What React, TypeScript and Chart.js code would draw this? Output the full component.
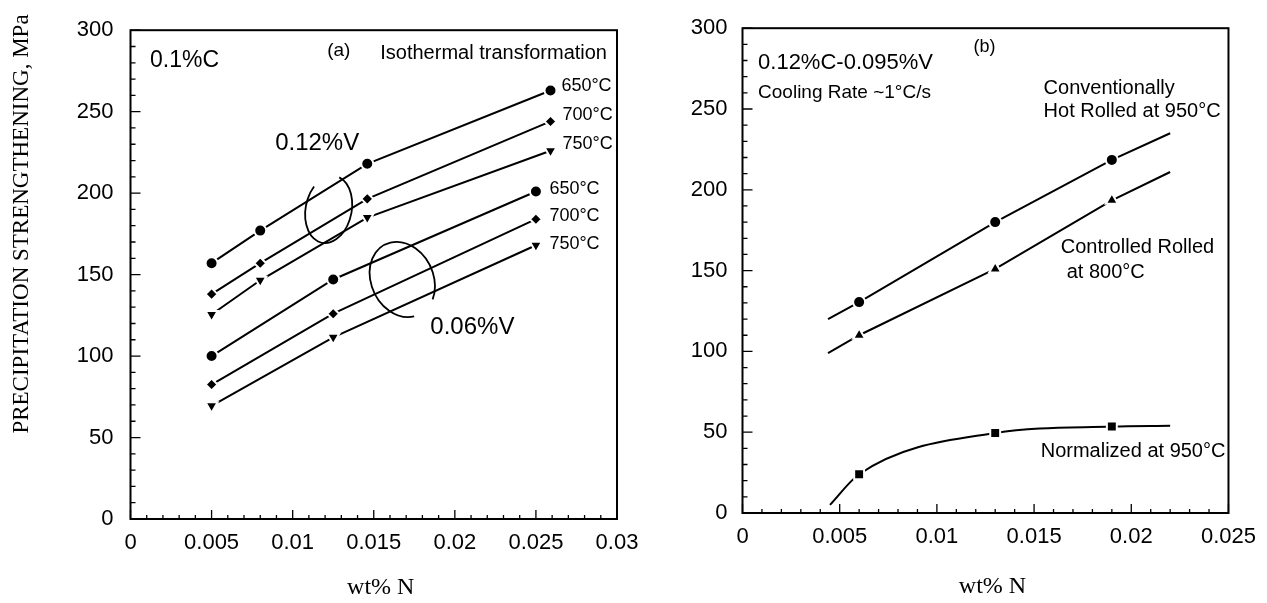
import React, { useEffect, useRef } from "react";
import { Chart, registerables } from "chart.js";

Chart.register(...registerables);

// ---------------- data ----------------
const leftXTicks = [0, 0.005, 0.01, 0.015, 0.02, 0.025, 0.03];
const rightXTicks = [0, 0.005, 0.01, 0.015, 0.02, 0.025];
const yTicks = [0, 50, 100, 150, 200, 250, 300];

// (a) 0.1%C, isothermal transformation
const nV12 = [0.005, 0.008, 0.0146, 0.0259];
const v12T650 = [157, 177, 218, 263];
const v12T700 = [138, 157, 196.5, 244];
const v12T750 = [125.5, 146.5, 185, 226];

const nV06 = [0.005, 0.0125, 0.025];
const v06T650 = [100, 147, 201];
const v06T700 = [82.5, 126, 184];
const v06T750 = [69.5, 111.5, 168];

// (b) 0.12%C-0.095%V
const nRolled = [0.0044, 0.006, 0.013, 0.019, 0.022];
const hotRolled950 = [120, 130.5, 180, 218.5, 235];
const controlled800 = [99, 110, 151, 193.5, 211];
const nNormalized = [0.0045, 0.006, 0.013, 0.019, 0.022];
const normalized950 = [5, 24, 49.5, 53.5, 54];
const measured = [false, true, true, true, false];

const SANS = '"Liberation Sans", Arial, Helvetica, sans-serif';
const SERIF = '"Liberation Serif", "Times New Roman", serif';

type Note = { t: string; x: number; y: number; size: number };
type Ring = { x: number; y: number; rx: number; ry: number; rot: number; a0: number; a1: number };

const leftNotes: Note[] = [
  { t: "0.1%C", x: 0.0012, y: 281.4, size: 23 },
  { t: "(a)", x: 0.01213, y: 287.3, size: 19 },
  { t: "Isothermal transformation", x: 0.0154, y: 286, size: 20 },
  { t: "650°C", x: 0.02657, y: 265.8, size: 18 },
  { t: "700°C", x: 0.02664, y: 247.8, size: 18 },
  { t: "750°C", x: 0.02664, y: 230.2, size: 18 },
  { t: "650°C", x: 0.02583, y: 202.7, size: 18 },
  { t: "700°C", x: 0.02583, y: 185.7, size: 18 },
  { t: "750°C", x: 0.02583, y: 169, size: 18 },
  { t: "0.12%V", x: 0.00892, y: 230.8, size: 24 },
  { t: "0.06%V", x: 0.01849, y: 117.8, size: 24 },
];

const rightNotes: Note[] = [
  { t: "0.12%C-0.095%V", x: 0.0008, y: 278.4, size: 22 },
  { t: "(b)", x: 0.01188, y: 288.6, size: 18 },
  { t: "Cooling Rate ~1°C/s", x: 0.0008, y: 260.3, size: 19 },
  { t: "Conventionally", x: 0.01549, y: 262.7, size: 20 },
  { t: "Hot Rolled at 950°C", x: 0.01549, y: 248.3, size: 20 },
  { t: "Controlled Rolled", x: 0.01637, y: 164.1, size: 20 },
  { t: "at 800°C", x: 0.01668, y: 149.1, size: 20 },
  { t: "Normalized at 950°C", x: 0.01534, y: 37.9, size: 20 },
];

const leftRings: Ring[] = [
  { x: 0.01222, y: 190, rx: 23, ry: 34, rot: 0.2, a0: -80, a1: 215 },
  { x: 0.01676, y: 147, rx: 31, ry: 39, rot: -0.45, a0: 100, a1: 413 },
];

const fmt = (v: any) => String(Number(Number(v).toFixed(4)));

function pts(xs: number[], ys: number[]) {
  return xs.map((x, i) => ({ x, y: ys[i] }));
}

function series(label: string, xs: number[], ys: number[], style: string, radius: number, rotation = 0, shown?: boolean[]) {
  return {
    label,
    data: pts(xs, ys),
    showLine: true,
    borderColor: "#000",
    borderWidth: 2,
    tension: 0,
    pointStyle: style,
    pointRotation: rotation,
    pointRadius: shown ? shown.map((s) => (s ? radius : 0)) : radius,
    pointBackgroundColor: "#000",
    pointBorderColor: "#fff",
    pointBorderWidth: 2,
  };
}

function decorPlugin(notes: Note[], rings: Ring[], xMinorCount: number, titleOffset: number, yTitle: boolean) {
  return {
    id: "decor",
    afterDatasetsDraw(chart: any) {
      const { ctx, chartArea: ca, scales } = chart;
      const xs = scales.x;
      const ys = scales.y;
      ctx.save();
      ctx.strokeStyle = "#000";
      ctx.lineWidth = 2;
      ctx.strokeRect(ca.left, ca.top, ca.right - ca.left, ca.bottom - ca.top);
      ctx.lineWidth = 1.3;
      ctx.beginPath();
      for (let k = 0; k <= 30; k++) {
        const py = ys.getPixelForValue(k * 10);
        const len = k % 5 === 0 ? 10 : 5;
        ctx.moveTo(ca.left, py);
        ctx.lineTo(ca.left + len, py);
      }
      for (let k = 0; k <= xMinorCount; k++) {
        const px = xs.getPixelForValue(k * 0.001);
        const len = k % 5 === 0 ? 9 : 4;
        ctx.moveTo(px, ca.bottom);
        ctx.lineTo(px, ca.bottom - len);
      }
      ctx.stroke();

      ctx.lineWidth = 1.8;
      rings.forEach((r) => {
        ctx.beginPath();
        ctx.ellipse(
          xs.getPixelForValue(r.x),
          ys.getPixelForValue(r.y),
          r.rx,
          r.ry,
          r.rot,
          (r.a0 * Math.PI) / 180,
          (r.a1 * Math.PI) / 180
        );
        ctx.stroke();
      });

      ctx.fillStyle = "#000";
      ctx.textBaseline = "middle";
      ctx.textAlign = "left";
      notes.forEach((n) => {
        ctx.font = `${n.size}px ${SANS}`;
        ctx.fillText(n.t, xs.getPixelForValue(n.x), ys.getPixelForValue(n.y));
      });

      ctx.textAlign = "center";
      ctx.font = `24px ${SERIF}`;
      ctx.fillText("wt% N", (ca.left + ca.right) / 2 + 7, ca.bottom + titleOffset);

      if (yTitle) {
        ctx.save();
        ctx.translate(22, 224);
        ctx.rotate(-Math.PI / 2);
        ctx.font = `23px ${SERIF}`;
        ctx.fillText("PRECIPITATION STRENGTHENING, MPa", 0, 0);
        ctx.restore();
      }
      ctx.restore();
    },
  };
}

function axes(xTicks: number[], xMax: number, yWidth: number, xHeight: number, yPad: number) {
  const tickFont = { family: SANS, size: 22 };
  return {
    x: {
      type: "linear",
      min: 0,
      max: xMax,
      afterBuildTicks: (s: any) => {
        s.ticks = xTicks.map((v) => ({ value: v }));
      },
      afterFit: (s: any) => {
        s.height = xHeight;
      },
      ticks: { callback: fmt, font: tickFont, color: "#000", padding: 11, maxRotation: 0, autoSkip: false },
      grid: { display: false, drawTicks: false },
      border: { display: false },
    },
    y: {
      type: "linear",
      min: 0,
      max: 300,
      afterBuildTicks: (s: any) => {
        s.ticks = yTicks.map((v) => ({ value: v }));
      },
      afterFit: (s: any) => {
        s.width = yWidth;
      },
      ticks: { callback: fmt, font: tickFont, color: "#000", padding: yPad, autoSkip: false },
      grid: { display: false, drawTicks: false },
      border: { display: false },
    },
  };
}

function useChart(ref: React.RefObject<HTMLCanvasElement>, make: (c: HTMLCanvasElement) => Chart) {
  useEffect(() => {
    if (!ref.current) return;
    const ch = make(ref.current);
    return () => ch.destroy();
  }, []);
}

export default function App() {
  const leftRef = useRef<HTMLCanvasElement>(null);
  const rightRef = useRef<HTMLCanvasElement>(null);

  useChart(leftRef, (c) =>
    new Chart(c, {
      type: "scatter",
      data: {
        datasets: [
          series("0.12%V 650°C", nV12, v12T650, "circle", 6),
          series("0.12%V 700°C", nV12, v12T700, "rectRot", 6),
          series("0.12%V 750°C", nV12, v12T750, "triangle", 7, 180),
          series("0.06%V 650°C", nV06, v06T650, "circle", 6),
          series("0.06%V 700°C", nV06, v06T700, "rectRot", 6),
          series("0.06%V 750°C", nV06, v06T750, "triangle", 7, 180),
        ] as any,
      },
      options: {
        responsive: false,
        animation: false,
        layout: { padding: { left: 0, top: 20, right: 33, bottom: 0 } },
        scales: axes(leftXTicks, 0.03, 130.5, 84, 17) as any,
        plugins: { legend: { display: false }, tooltip: { enabled: false } },
      },
      plugins: [decorPlugin(leftNotes, leftRings, 30, 69, true)],
    })
  );

  useChart(rightRef, (c) =>
    new Chart(c, {
      type: "scatter",
      data: {
        datasets: [
          series("Conventionally Hot Rolled at 950°C", nRolled, hotRolled950, "circle", 6, 0, measured),
          series("Controlled Rolled at 800°C", nRolled, controlled800, "triangle", 7, 0, measured),
          {
            ...series("Normalized at 950°C", nNormalized, normalized950, "rect", 7, 0, measured),
            cubicInterpolationMode: "monotone",
          },
        ] as any,
      },
      options: {
        responsive: false,
        animation: false,
        layout: { padding: { left: 0, top: 14, right: 38.5, bottom: 0 } },
        scales: axes(rightXTicks, 0.025, 92.5, 90, 15) as any,
        plugins: { legend: { display: false }, tooltip: { enabled: false } },
      },
      plugins: [decorPlugin(rightNotes, [], 25, 74, false)],
    })
  );

  return (
    <div style={{ position: "fixed", left: 0, top: 0, width: 1267, height: 603, background: "#fff" }}>
      <canvas ref={leftRef} width={650} height={603} style={{ position: "absolute", left: 0, top: 0, width: 650, height: 603 }} />
      <canvas ref={rightRef} width={617} height={603} style={{ position: "absolute", left: 650, top: 0, width: 617, height: 603 }} />
    </div>
  );
}
